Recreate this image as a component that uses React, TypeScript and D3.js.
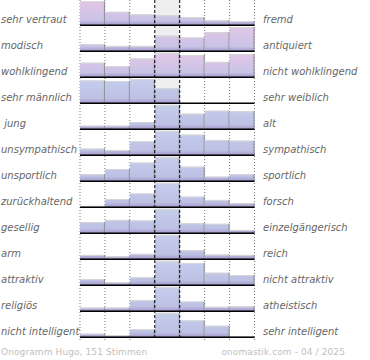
import React from 'react';
import * as d3 from 'd3';

// Onogramm: 13 Gegensatzpaare, je 7 Stufen, Stimmen pro Stufe
const leftLabels = [
  'sehr vertraut', 'modisch', 'wohlklingend', 'sehr männlich', ' jung',
  'unsympathisch', 'unsportlich', 'zurückhaltend', 'gesellig', 'arm',
  'attraktiv', 'religiös', 'nicht intelligent',
];
const rightLabels = [
  'fremd', 'antiquiert', 'nicht wohlklingend', 'sehr weiblich', 'alt',
  'sympathisch', 'sportlich', 'forsch', 'einzelgängerisch', 'reich',
  'nicht attraktiv', 'atheistisch', 'sehr intelligent',
];
const steps = [1, 2, 3, 4, 5, 6, 7];
const votes = [
  [48, 27, 22, 20, 16, 10, 8],
  [12, 9, 9, 26, 23, 32, 40],
  [17, 13, 22, 28, 26, 18, 27],
  [41, 40, 43, 27, 0, 0, 0],
  [6, 6, 12, 40, 26, 31, 30],
  [10, 8, 21, 36, 31, 23, 22],
  [12, 21, 32, 41, 25, 8, 12],
  [3, 18, 30, 52, 23, 16, 9],
  [20, 24, 23, 43, 18, 17, 6],
  [12, 8, 15, 66, 25, 13, 12],
  [11, 5, 14, 42, 39, 22, 18],
  [9, 9, 27, 59, 24, 11, 12],
  [8, 5, 18, 54, 38, 26, 2],
];
const footerLeft = 'Onogramm Hugo, 151 Stimmen';
const footerRight = 'onomastik.com - 04 / 2025';

const W = 370;
const H = 360;
const barMax = 24;
const tintedRows = 3;
const font = '"DejaVu Sans", Verdana, sans-serif';

export default function App() {
  const x = d3.scaleBand<number>().domain(steps).range([80, 254.5]).padding(0);
  const rows = d3.scaleBand<number>().domain(votes.map((_, i) => i)).range([-0.7, 337.3]);
  const bw = x.bandwidth();
  const mid = x(4)!;
  const bottom = 340;
  const edges = steps.map((s) => x(s)!).concat([x(7)! + bw]);

  return (
    <svg width={W} height={H} style={{ position: 'absolute', left: 0, top: 0 }}>
      <defs>
        {votes.map((_, i) => {
          const base = rows(i)! + rows.step();
          const tinted = i < tintedRows;
          return (
            <linearGradient key={i} id={'g' + i} gradientUnits="userSpaceOnUse" x1={0} x2={0} y1={base - barMax} y2={base}>
              <stop offset="0" stopColor={tinted ? '#e2c6e6' : '#c6cdec'} />
              <stop offset="0.8" stopColor={tinted ? '#c9c3e6' : '#bcc1e4'} />
              <stop offset="0.93" stopColor="#aea6d2" />
              <stop offset="1" stopColor="#9388bf" />
            </linearGradient>
          );
        })}
      </defs>

      <rect x={mid} y={0} width={bw} height={bottom - 2} fill="#eeeeee" />

      {edges.map((ex, k) =>
        k === 3 || k === 4 ? null : (
          <line key={'d' + k} x1={ex} x2={ex} y1={0} y2={bottom} stroke="#777" strokeWidth={1} strokeDasharray="1,2" />
        )
      )}

      {votes.map((row, i) => {
        const base = rows(i)! + rows.step();
        const y = d3.scaleLinear().domain([0, d3.max(row)!]).range([0, barMax]);
        return (
          <g key={i}>
            {row.map((v, j) => {
              const h = y(v);
              if (h <= 0) return null;
              const bx = x(steps[j])!;
              return (
                <g key={j}>
                  <rect x={bx} y={base - h} width={bw} height={h} fill={`url(#g${i})`} />
                  <line x1={bx} x2={bx + bw} y1={base - h + 0.5} y2={base - h + 0.5} stroke="#d6d6d6" />
                  <line x1={bx + bw - 0.5} x2={bx + bw - 0.5} y1={base - h} y2={base} stroke="#8c8c8c" />
                </g>
              );
            })}
            <line x1={80} x2={254.5} y1={base} y2={base} stroke="#000" strokeWidth={1.5} />
            <text x={1} y={base - 2.5} fontFamily={font} fontStyle="italic" fontSize={10} fill="#666" style={{ whiteSpace: 'pre' }}>
              {leftLabels[i]}
            </text>
            <text x={263} y={base - 2.5} fontFamily={font} fontStyle="italic" fontSize={10} fill="#666">
              {rightLabels[i]}
            </text>
          </g>
        );
      })}

      {[mid, mid + bw].map((ex, k) => (
        <line key={'m' + k} x1={ex} x2={ex} y1={0} y2={bottom} stroke="#000" strokeWidth={1} strokeDasharray="3,2" />
      ))}

      <text x={1} y={355} fontFamily={font} fontSize={9} fill="#c0c0c0" letterSpacing={0.1}>
        {footerLeft}
      </text>
      <text x={345} y={355} textAnchor="end" fontFamily={font} fontSize={9} fill="#c0c0c0" letterSpacing={0.1}>
        {footerRight}
      </text>
    </svg>
  );
}
